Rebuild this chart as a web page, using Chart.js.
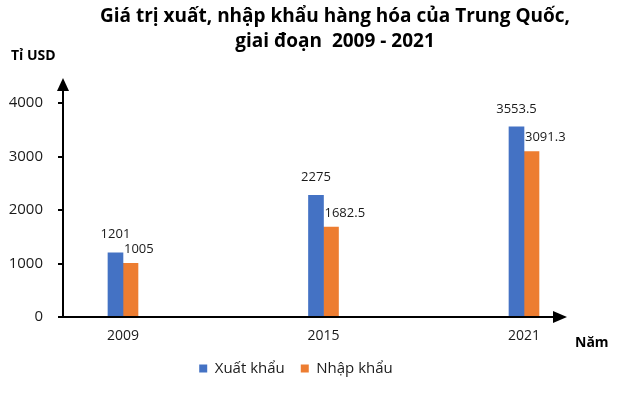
<!DOCTYPE html>
<html>
<head>
<meta charset="utf-8">
<script src="https://cdn.jsdelivr.net/npm/chart.js@4/dist/chart.umd.min.js"></script>
<style>
  html, body { margin: 0; padding: 0; background: #fff; }
  #wrap { width: 624px; height: 396px; }
</style>
</head>
<body>
<div id="wrap"><canvas id="chart"></canvas></div>
<script>
// Data
const years = [2009, 2015, 2021];
const exportValues = [1201, 2275, 3553.5];
const importValues = [1005, 1682.5, 3091.3];
const yTicks = [0, 1000, 2000, 3000, 4000];
const titleLines = ['Giá trị xuất, nhập khẩu hàng hóa của Trung Quốc,', 'giai đoạn  2009 - 2021'];

const FONT = "'Open Sans', 'Noto Sans', sans-serif";

// Title, axis names, arrows and value labels
const decorPlugin = {
    id: 'decor',
    afterDraw(chart) {
        const { ctx, scales: { x, y } } = chart;
        const x0 = x.left;
        const y0 = y.getPixelForValue(0);
        const yTop = y.getPixelForValue(yTicks[yTicks.length - 1]);
        const xEnd = x.getPixelForValue(years[years.length - 1]) + 30;

        ctx.save();
        ctx.strokeStyle = '#000';
        ctx.fillStyle = '#000';
        ctx.lineWidth = 2;

        // y axis + arrow
        ctx.beginPath();
        ctx.moveTo(x0, y0);
        ctx.lineTo(x0, yTop - 13);
        ctx.stroke();
        ctx.beginPath();
        ctx.moveTo(x0, yTop - 25);
        ctx.lineTo(x0 - 6, yTop - 12);
        ctx.lineTo(x0 + 6, yTop - 12);
        ctx.closePath();
        ctx.fill();

        // x axis + arrow
        ctx.beginPath();
        ctx.moveTo(x0 - 5, y0);
        ctx.lineTo(xEnd, y0);
        ctx.stroke();
        ctx.beginPath();
        ctx.moveTo(xEnd + 13, y0);
        ctx.lineTo(xEnd - 1, y0 - 6);
        ctx.lineTo(xEnd - 1, y0 + 6);
        ctx.closePath();
        ctx.fill();

        // title
        ctx.textAlign = 'center';
        ctx.textBaseline = 'middle';
        ctx.font = `bold 19px ${FONT}`;
        ctx.fillText(titleLines[0], 335, 17);
        ctx.fillText(titleLines[1], 335, 42);

        // axis names
        ctx.font = `bold 14px ${FONT}`;
        ctx.textAlign = 'left';
        ctx.fillText('Tỉ USD', 11, 56);
        ctx.fillText('Năm', xEnd + 21, 343);

        // value labels
        ctx.font = `13px ${FONT}`;
        ctx.fillStyle = '#1a1a1a';
        chart.data.datasets.forEach((ds, di) => {
            const meta = chart.getDatasetMeta(di);
            meta.data.forEach((bar, i) => {
                const v = ds.data[i].y;
                if (di === 0) {
                    ctx.textAlign = 'center';
                    ctx.fillText(String(v), bar.x, bar.y - 18);
                } else {
                    ctx.textAlign = 'left';
                    ctx.fillText(String(v), bar.x - bar.width / 2 + 1, bar.y - 14);
                }
            });
        });
        ctx.restore();
    }
};

const ctx = document.getElementById('chart').getContext('2d');
new Chart(ctx, {
    type: 'bar',
    data: {
        datasets: [{
            label: 'Xuất khẩu',
            data: years.map((yr, i) => ({ x: yr, y: exportValues[i] })),
            backgroundColor: '#4472C4',
            barThickness: 15
        }, {
            label: 'Nhập khẩu',
            data: years.map((yr, i) => ({ x: yr, y: importValues[i] })),
            backgroundColor: '#ED7D31',
            barThickness: 15
        }]
    },
    options: {
        responsive: true,
        maintainAspectRatio: false,
        animation: false,
        layout: { padding: { top: 103, right: 32, bottom: 10, left: 0 } },
        plugins: {
            legend: {
                position: 'bottom',
                labels: {
                    boxWidth: 8,
                    boxHeight: 8,
                    padding: 16,
                    color: '#1a1a1a',
                    font: { family: FONT, size: 15 }
                }
            },
            tooltip: { enabled: false }
        },
        scales: {
            x: {
                type: 'linear',
                offset: false,
                min: 2007.205,
                max: 2023.035,
                grid: { display: false, offset: false },
                border: { display: false },
                afterBuildTicks: (scale) => { scale.ticks = years.map(v => ({ value: v })); },
                afterFit: (scale) => { scale.height = 28; },
                ticks: {
                    padding: 3,
                    color: '#1a1a1a',
                    font: { family: FONT, size: 14 },
                    callback: (v) => String(v)
                }
            },
            y: {
                min: 0,
                max: 4000,
                grid: { drawOnChartArea: false, color: '#000', lineWidth: 2, tickLength: 5 },
                border: { display: false },
                afterBuildTicks: (scale) => { scale.ticks = yTicks.map(v => ({ value: v })); },
                afterFit: (scale) => { scale.width = 63; },
                ticks: {
                    padding: 15,
                    color: '#1a1a1a',
                    font: { family: FONT, size: 15 },
                    callback: (v) => String(v)
                }
            }
        }
    },
    plugins: [decorPlugin]
});
</script>
</body>
</html>
